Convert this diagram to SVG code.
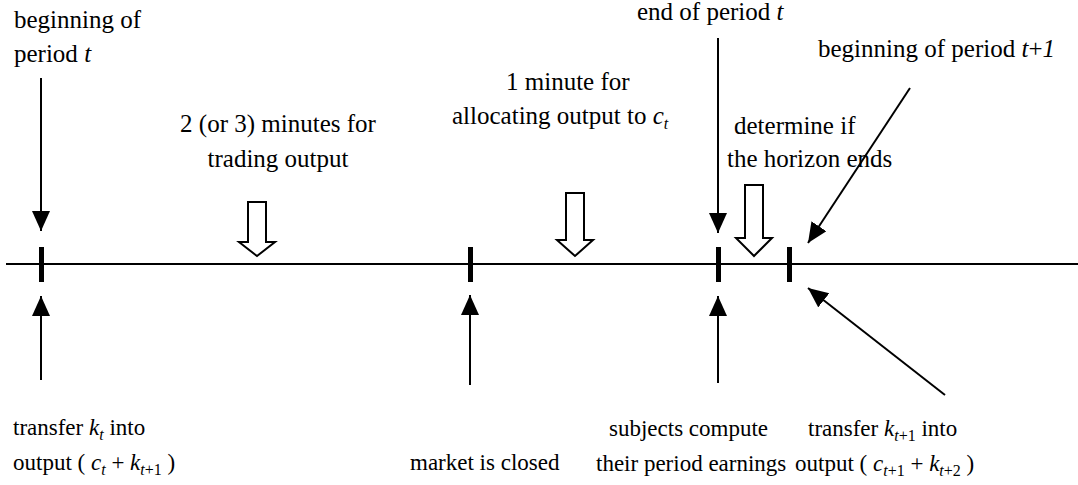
<svg xmlns="http://www.w3.org/2000/svg" width="1078" height="485" viewBox="0 0 1078 485">
<defs>
<marker id="ah" markerUnits="userSpaceOnUse" markerWidth="22" markerHeight="20" refX="20" refY="9" orient="auto" viewBox="0 0 22 20">
<path d="M0,0 L20,9 L0,18 z" fill="#000"/>
</marker>
</defs>
<g id="timeline">
<line x1="6" y1="264" x2="1078" y2="264" stroke="#000" stroke-width="2"/>
<g fill="#000">
<rect x="39" y="247" width="5" height="35"/>
<rect x="468" y="247" width="5" height="35"/>
<rect x="716" y="247" width="5" height="35"/>
<rect x="787" y="247" width="5" height="35"/>
</g>
</g>
<g id="connectors" stroke="#000" stroke-width="2" fill="none">
<line x1="41" y1="78" x2="41" y2="231" marker-end="url(#ah)"/>
<line x1="41" y1="380" x2="41" y2="296" marker-end="url(#ah)"/>
<line x1="470" y1="385" x2="470" y2="295" marker-end="url(#ah)"/>
<line x1="718" y1="383" x2="718" y2="296" marker-end="url(#ah)"/>
<line x1="718" y1="38" x2="718" y2="233" marker-end="url(#ah)"/>
<line x1="910" y1="88" x2="808" y2="243" marker-end="url(#ah)"/>
<line x1="945" y1="395" x2="808" y2="288" marker-end="url(#ah)"/>
<g fill="#fff">
<polygon points="248,202 266,202 266,242 275,242 257,256 239,242 248,242"/>
<polygon points="566,193 584,193 584,240 593,240 575,256 557,240 566,240"/>
<polygon points="745,185 763,185 763,238 772,238 754,256 736,238 745,238"/>
</g>
</g>
<g id="n-begin-t">
<text style="font-family:'Times New Roman'" font-size="25" x="14" y="28">beginning of</text>
<text style="font-family:'Times New Roman'" font-size="25" x="14" y="62">period <tspan font-style="italic">t</tspan></text>
</g>
<g id="n-trading">
<text style="font-family:'Times New Roman'" font-size="25" text-anchor="middle" x="278" y="132">2 (or 3) minutes for</text>
<text style="font-family:'Times New Roman'" font-size="25" text-anchor="middle" x="278" y="167">trading output</text>
</g>
<g id="n-allocating">
<text style="font-family:'Times New Roman'" font-size="25" x="506" y="90">1 minute for</text>
<text style="font-family:'Times New Roman'" font-size="25" x="452" y="124">allocating output to <tspan font-style="italic">c</tspan><tspan font-style="italic" font-size="16" dy="5">t</tspan></text>
</g>
<g id="n-end-t">
<text style="font-family:'Times New Roman'" font-size="25" x="637" y="20">end of period <tspan font-style="italic">t</tspan></text>
</g>
<g id="n-begin-t1">
<text style="font-family:'Times New Roman'" font-size="25" x="818" y="57">beginning of period <tspan font-style="italic">t</tspan>+<tspan font-style="italic">1</tspan></text>
</g>
<g id="n-horizon">
<text style="font-family:'Times New Roman'" font-size="25" x="734" y="134">determine if</text>
<text style="font-family:'Times New Roman'" font-size="25" x="727" y="167">the horizon ends</text>
</g>
<g id="n-transfer-t">
<text style="font-family:'Times New Roman'" font-size="23" x="13" y="435">transfer  <tspan font-style="italic">k</tspan><tspan font-style="italic" font-size="16" dy="5">t</tspan><tspan dy="-5"> into</tspan></text>
<text style="font-family:'Times New Roman'" font-size="23" x="13" y="470">output ( <tspan font-style="italic">c</tspan><tspan font-style="italic" font-size="16" dy="5">t</tspan><tspan dy="-5"> + </tspan><tspan font-style="italic">k</tspan><tspan font-size="16" dy="5"><tspan font-style="italic">t</tspan>+1</tspan><tspan dy="-5"> )</tspan></text>
</g>
<g id="n-market">
<text style="font-family:'Times New Roman'" font-size="23" x="410" y="470">market is closed</text>
</g>
<g id="n-subjects">
<text style="font-family:'Times New Roman'" font-size="23" x="609" y="436">subjects compute</text>
<text style="font-family:'Times New Roman'" font-size="23" x="596" y="471">their period earnings</text>
</g>
<g id="n-transfer-t1">
<text style="font-family:'Times New Roman'" font-size="23" x="808" y="436">transfer  <tspan font-style="italic">k</tspan><tspan font-size="16" dy="5"><tspan font-style="italic">t</tspan>+1</tspan><tspan dy="-5"> into</tspan></text>
<text style="font-family:'Times New Roman'" font-size="23" x="795" y="471">output ( <tspan font-style="italic">c</tspan><tspan font-size="16" dy="5"><tspan font-style="italic">t</tspan>+1</tspan><tspan dy="-5"> + </tspan><tspan font-style="italic">k</tspan><tspan font-size="16" dy="5"><tspan font-style="italic">t</tspan>+2</tspan><tspan dy="-5"> )</tspan></text>
</g>
</svg>
